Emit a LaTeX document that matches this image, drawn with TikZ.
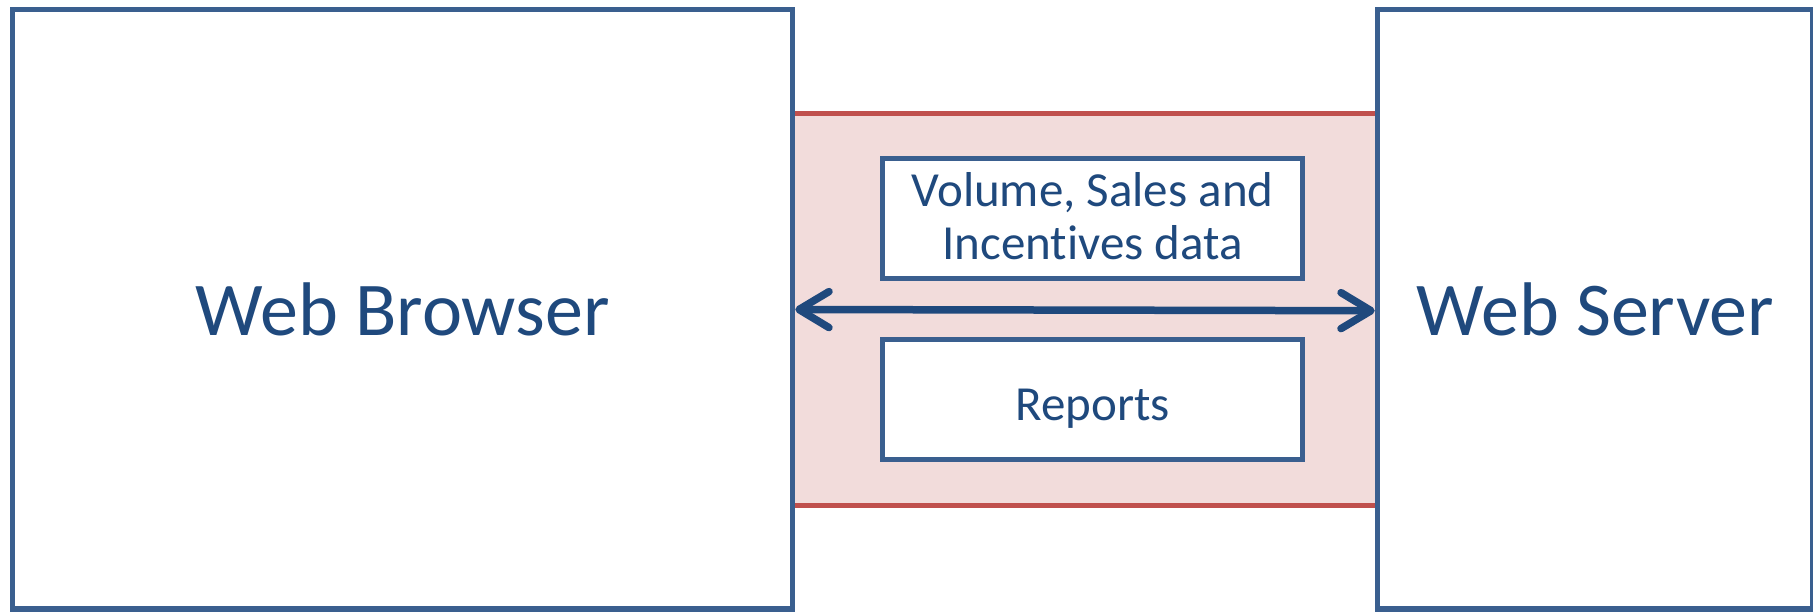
\documentclass[tikz,border=0pt]{standalone}
\usepackage{fontspec}
\setmainfont{Carlito}[Ligatures=NoCommon]
\usetikzlibrary{arrows.meta}
\definecolor{boxblue}{HTML}{3A5F8F}
\definecolor{textblue}{HTML}{1F497D}
\definecolor{bandred}{HTML}{C0504D}
\definecolor{bandpink}{HTML}{F2DCDB}
\tikzset{
  bigbox/.style={draw=boxblue, line width=5.5pt, fill=white, rectangle, inner sep=0pt,
    text=textblue, font=\fontsize{76}{91}\selectfont, text height=51.5pt, text depth=0pt},
  databox/.style={draw=boxblue, line width=5pt, fill=white, rectangle, inner sep=0pt,
    text=textblue, align=center, font=\fontsize{49}{53.3}\selectfont,
    minimum width=420pt},
  redline/.style={draw=bandred, line width=5.3pt},
  link/.style={draw=textblue, line width=7.5pt, line cap=round,
    {Straight Barb[length=30pt,width=36pt,line cap=round,line join=round]}-{Straight Barb[length=30pt,width=36pt,line cap=round,line join=round]}}
}
\begin{document}
\begin{tikzpicture}[x=1pt,y=-1pt]
\useasboundingbox (0,0) rectangle (1813,611);
% band
\fill[bandpink] (792.5,113.5) rectangle (1377.5,505.5);
\draw[redline] (792.5,113.5) -- (1377.5,113.5);
\draw[redline] (792.5,505.5) -- (1377.5,505.5);
% big boxes
\node[bigbox, minimum width=780pt, minimum height=599.5pt] (browser) at (402.5,309.25) {Web Browser};
\node[bigbox, minimum width=435.5pt, minimum height=599.5pt] (server) at (1595.25,309.25) {Web Server};
% data boxes
\node[databox, minimum height=120pt, text depth=5.3pt] (data) at (1092.5,218.5) {Volume, Sales and\\Incentives data};
\node[databox, minimum height=119.5pt, text height=41.5pt, text depth=0pt] (reports) at (1092.5,399.25) {Reports};
% arrow
\coordinate (la) at (browser.east |- 0,309.5);
\coordinate (ra) at (server.west |- 0,310.7);
\draw[link] (la) -- (ra);
\end{tikzpicture}
\end{document}
